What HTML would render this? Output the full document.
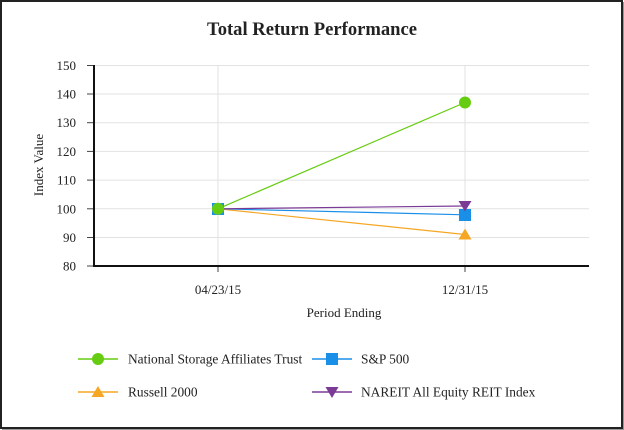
<!DOCTYPE html>
<html><head><meta charset="utf-8"><style>
html,body{margin:0;padding:0;background:#fff;}
svg{display:block;}
text{font-family:"Liberation Serif",serif;fill:#222;}
</style></head><body>
<svg width="624" height="430" viewBox="0 0 624 430" xmlns="http://www.w3.org/2000/svg">
<rect x="0" y="0" width="624" height="430" fill="#fff"/>
<rect x="1" y="1" width="621" height="427" fill="none" stroke="#222" stroke-width="2"/>
<line x1="623.5" y1="2" x2="623.5" y2="430" stroke="#999" stroke-width="1"/>
<line x1="2" y1="429.5" x2="624" y2="429.5" stroke="#999" stroke-width="1"/>
<text x="312" y="35" text-anchor="middle" font-size="19" font-weight="bold" fill="#111" textLength="210" lengthAdjust="spacingAndGlyphs">Total Return Performance</text>
<g stroke="#e2e2e2" stroke-width="1">
<line x1="94" y1="65.5" x2="589" y2="65.5"/>
<line x1="94" y1="94" x2="589" y2="94"/>
<line x1="94" y1="122.7" x2="589" y2="122.7"/>
<line x1="94" y1="151.4" x2="589" y2="151.4"/>
<line x1="94" y1="180.1" x2="589" y2="180.1"/>
<line x1="94" y1="208.8" x2="589" y2="208.8"/>
<line x1="94" y1="237.5" x2="589" y2="237.5"/>
<line x1="218" y1="65.5" x2="218" y2="266"/>
<line x1="465" y1="65.5" x2="465" y2="266"/>
</g>
<g stroke="#444" stroke-width="1">
<line x1="87" y1="65.5" x2="94" y2="65.5"/>
<line x1="87" y1="94" x2="94" y2="94"/>
<line x1="87" y1="122.7" x2="94" y2="122.7"/>
<line x1="87" y1="151.4" x2="94" y2="151.4"/>
<line x1="87" y1="180.1" x2="94" y2="180.1"/>
<line x1="87" y1="208.8" x2="94" y2="208.8"/>
<line x1="87" y1="237.5" x2="94" y2="237.5"/>
<line x1="87" y1="266" x2="94" y2="266"/>
<line x1="218" y1="266" x2="218" y2="272"/>
<line x1="465" y1="266" x2="465" y2="272"/>
</g>
<line x1="94" y1="65" x2="94" y2="266" stroke="#111" stroke-width="2"/>
<line x1="93" y1="266" x2="589" y2="266" stroke="#111" stroke-width="2"/>
<g font-size="13" text-anchor="end">
<text x="76" y="70">150</text>
<text x="76" y="98.5">140</text>
<text x="76" y="127.2">130</text>
<text x="76" y="155.9">120</text>
<text x="76" y="184.6">110</text>
<text x="76" y="213.3">100</text>
<text x="76" y="242">90</text>
<text x="76" y="270.5">80</text>
</g>
<text transform="translate(43,165) rotate(-90)" text-anchor="middle" font-size="13">Index Value</text>
<text x="218" y="294" text-anchor="middle" font-size="13">04/23/15</text>
<text x="465" y="294" text-anchor="middle" font-size="13">12/31/15</text>
<text x="344" y="317" text-anchor="middle" font-size="13">Period Ending</text>
<line x1="218" y1="208.8" x2="465" y2="234.5" stroke="#f5a623" stroke-width="1.2"/>
<line x1="218" y1="208.8" x2="465" y2="214.8" stroke="#1a8fe8" stroke-width="1.2"/>
<line x1="218" y1="208.8" x2="465" y2="206" stroke="#7b3a96" stroke-width="1.2"/>
<line x1="218" y1="208.8" x2="465" y2="102.5" stroke="#66cc11" stroke-width="1.2"/>
<rect x="212" y="203" width="12" height="12" fill="#1a8fe8"/>
<circle cx="218" cy="208.8" r="6" fill="#66cc11"/>
<polygon points="465,228.5 471.5,239.5 458.5,239.5" fill="#f5a623"/>
<rect x="459" y="209" width="12" height="12" fill="#1a8fe8"/>
<polygon points="458.5,201 471.5,201 465,211.5" fill="#7b3a96"/>
<circle cx="465" cy="102.5" r="6" fill="#66cc11"/>
<line x1="78" y1="359" x2="118" y2="359" stroke="#66cc11" stroke-width="1.5"/>
<circle cx="98" cy="359" r="6" fill="#66cc11"/>
<text x="128" y="363.5" font-size="13.4">National Storage Affiliates Trust</text>
<line x1="78" y1="392" x2="118" y2="392" stroke="#f5a623" stroke-width="1.5"/>
<polygon points="98,386 104.5,397 91.5,397" fill="#f5a623"/>
<text x="128" y="396.5" font-size="13.4">Russell 2000</text>
<line x1="312" y1="359" x2="352" y2="359" stroke="#1a8fe8" stroke-width="1.5"/>
<rect x="326" y="353" width="12" height="12" fill="#1a8fe8"/>
<text x="361" y="363.5" font-size="13.4">S&amp;P 500</text>
<line x1="312" y1="392" x2="352" y2="392" stroke="#7b3a96" stroke-width="1.5"/>
<polygon points="325.5,387 338.5,387 332,398" fill="#7b3a96"/>
<text x="361" y="396.5" font-size="13.4">NAREIT All Equity REIT Index</text>
</svg>
</body></html>
